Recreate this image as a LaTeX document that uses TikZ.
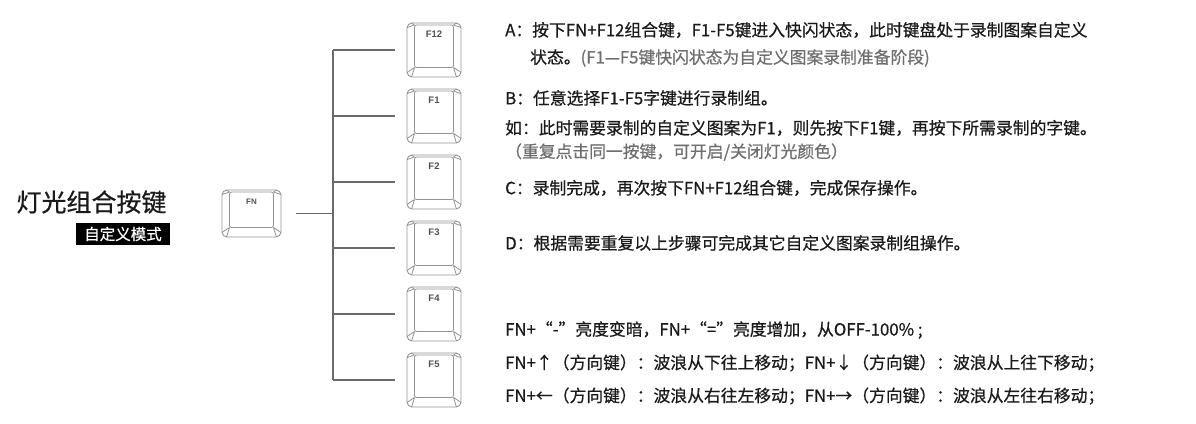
\documentclass[tikz,border=0pt]{standalone}
\usepackage{fontspec}
\setmainfont{Noto Sans CJK SC}
\newfontfamily\stepfont{Noto Sans CJK SC}[FakeBold=0.6]
\newfontfamily\keyfont{Liberation Sans}
\usepackage{xcolor}
\usepackage{tikz}
\usetikzlibrary{calc}

\definecolor{inkdark}{HTML}{1A1A1A}
\definecolor{inkgray}{HTML}{6E6E6E}
\definecolor{wiregray}{HTML}{6A6A6A}
\definecolor{capgray}{HTML}{949494}
\definecolor{caplabel}{HTML}{505050}

% face and bevels of a keycap drawn inside node #1
\newcommand{\capface}[1]{%
  \coordinate (#1-a) at ([shift={(8,2.5)}]#1.north west);
  \coordinate (#1-b) at ([shift={(-8,2.5)}]#1.north east);
  \coordinate (#1-c) at ([shift={(-8,-10)}]#1.south east);
  \coordinate (#1-d) at ([shift={(8,-10)}]#1.south west);
  \draw[keyline, rounded corners=2pt] (#1-a) -- (#1-b) -- (#1-c) -- (#1-d) -- cycle;
  \draw[keyline] (#1-a) -- ([shift={(0.4,5)}]#1.north west)
                 (#1-a) -- ([shift={(5,0.4)}]#1.north west)
                 (#1-b) -- ([shift={(-0.4,5)}]#1.north east)
                 (#1-b) -- ([shift={(-5,0.4)}]#1.north east)
                 (#1-c) -- ([shift={(-0.4,-5)}]#1.south east)
                 (#1-c) -- ([shift={(-5,-0.4)}]#1.south east)
                 (#1-d) -- ([shift={(0.4,-5)}]#1.south west)
                 (#1-d) -- ([shift={(5,-0.4)}]#1.south west);
}

\begin{document}
\begin{tikzpicture}[x=1pt, y=-1pt,
  keybox/.style={draw=capgray, line width=0.9pt, rounded corners=5pt, inner sep=0pt},
  keyline/.style={draw=capgray, line width=0.8pt},
  keylabel/.style={font=\keyfont\bfseries\fontsize{9.5}{9.5}\selectfont,
    text=caplabel, inner sep=0pt},
  wire/.style={draw=wiregray, line width=1.2pt},
  steptext/.style={anchor=west, inner sep=0pt,
    font=\stepfont\fontsize{16.8}{16.8}\selectfont, text=inkdark},
  notetext/.style={steptext, text=inkgray},
]
\useasboundingbox (0,0) rectangle (1196,423);

% ── Title ─────────────────────────────────────────────────────────────────────
\node[font=\stepfont\fontsize{25}{25}\selectfont, text=inkdark, inner sep=0pt] (title)
  at (91.5,202) {灯光组合按键};
\node[fill=black, text=white, font=\stepfont\fontsize{15.5}{15.5}\selectfont,
  minimum width=94pt, minimum height=22pt, inner sep=0pt] (mode)
  at (123,234) {自定义模式};

% ── FN key ────────────────────────────────────────────────────────────────────
\node[keybox, minimum width=59pt, minimum height=47pt] (kFN) at (251.5,213.5) {};
\capface{kFN}
\node[keylabel, font=\keyfont\bfseries\fontsize{8}{8}\selectfont]
  at ([shift={(0,12)}]kFN.north) {FN};

% ── F keys ────────────────────────────────────────────────────────────────────
\foreach \lab [count=\i from 0] in {F12,F1,F2,F3,F4,F5} {
  \node[keybox, minimum width=54pt, minimum height=54pt] (k\i) at (434,{50+66*\i}) {};
  \capface{k\i}
  \node[keylabel] at ([shift={(0,12)}]k\i.north) {\lab};
}

% ── Wiring ────────────────────────────────────────────────────────────────────
\coordinate (bus) at (333,213.5);
\draw[wire] ([shift={(15,0)}]kFN.east) -- (bus);
\draw[wire] (bus |- k0.west) -- (bus |- k5.west);
\foreach \i in {0,...,5}
  \draw[wire] (bus |- k\i.west) -- ([shift={(-12,0)}]k\i.west);

% ── Steps ─────────────────────────────────────────────────────────────────────
\node[steptext] (stepA)  at (505,30)  {A：按下FN+F12组合键，F1-F5键进入快闪状态，此时键盘处于录制图案自定义};
\node[steptext] (stepA2) at (530,58)  {状态。{\color{inkgray}(F1—F5键快闪状态为自定义图案录制准备阶段)}};
\node[steptext] (stepB)  at (505,98)  {B：任意选择F1-F5字键进行录制组。};
\node[steptext] (stepB2) at (505,128) {如：此时需要录制的自定义图案为F1，则先按下F1键，再按下所需录制的字键。};
\node[notetext] (stepB3) at (505,152) {（重复点击同一按键，可开启/关闭灯光颜色）};
\node[steptext] (stepC)  at (505,188) {C：录制完成，再次按下FN+F12组合键，完成保存操作。};
\node[steptext] (stepD)  at (505,243) {D：根据需要重复以上步骤可完成其它自定义图案录制组操作。};

% ── Lighting shortcuts ────────────────────────────────────────────────────────
\node[steptext] (lite1) at (505,330) {FN+“-”亮度变暗，FN+“=”亮度增加，从OFF-100\% ;};
\node[steptext] (lite2) at (505,363) {FN+↑（方向键）：波浪从下往上移动；FN+↓（方向键）：波浪从上往下移动；};
\node[steptext] (lite3) at (505,396) {FN+←（方向键）：波浪从右往左移动；FN+→（方向键）：波浪从左往右移动；};

\end{tikzpicture}
\end{document}
